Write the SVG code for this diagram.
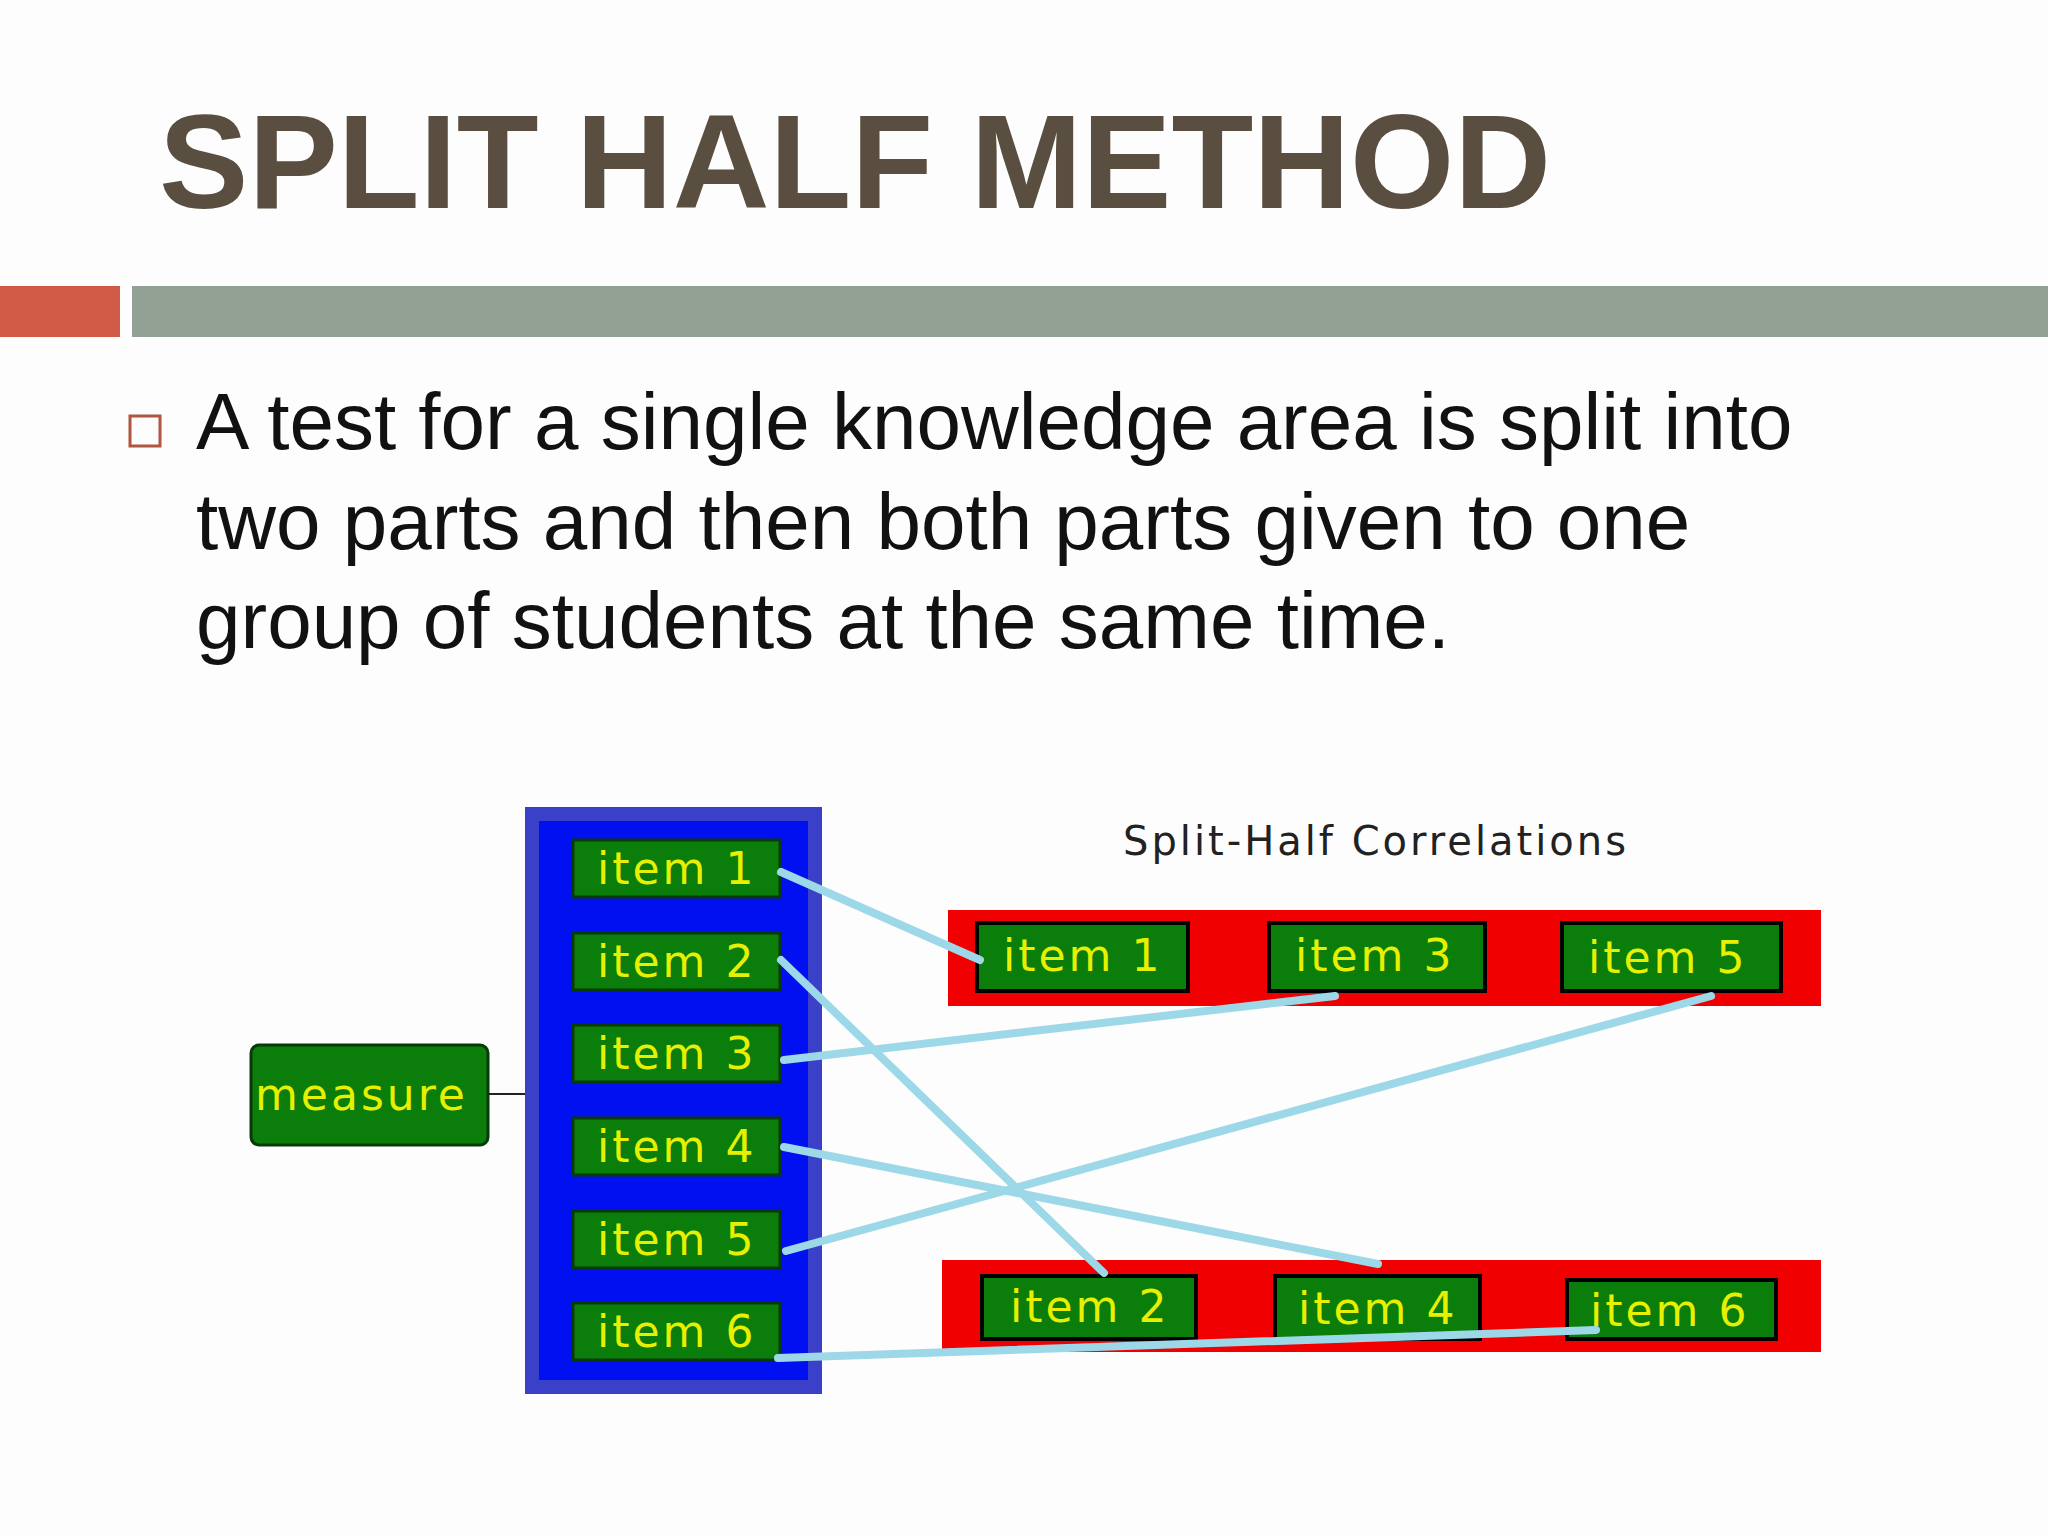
<svg xmlns="http://www.w3.org/2000/svg" width="2048" height="1536" viewBox="0 0 2048 1536">
<style>
.it{fill:#0a7d0a;stroke:#0a3a0a;stroke-width:3}
.it2{fill:#0a7d0a;stroke:#000;stroke-width:4}
.lt{font-family:"DejaVu Sans",sans-serif;font-size:44px;fill:#e6f000;letter-spacing:3px}
.cn{stroke:#9dd8e8;stroke-width:8;stroke-linecap:round;fill:none}
</style>
<rect width="2048" height="1536" fill="#fdfdfd"/>
<text x="159" y="208" font-family="Liberation Sans,Arial,sans-serif" font-weight="bold" font-size="134" fill="#5a4e40">SPLIT HALF METHOD</text>
<rect x="0" y="286" width="120" height="51" fill="#d05a45"/>
<rect x="132" y="286" width="1916" height="51" fill="#93a195"/>
<rect x="130" y="416" width="30" height="30" fill="none" stroke="#b0553f" stroke-width="3"/>
<g font-family="Liberation Sans,Arial,sans-serif" font-size="80" fill="#111">
<text x="196" y="449">A test for a single knowledge area is split into</text>
<text x="196" y="549">two parts and then both parts given to one</text>
<text x="196" y="648">group of students at the same time.</text>
</g>
<text x="1123" y="855" font-family="DejaVu Sans,sans-serif" font-size="40" fill="#222" letter-spacing="3">Split-Half Correlations</text>
<rect x="948" y="910" width="873" height="96" fill="#f00000"/>
<rect x="942" y="1260" width="879" height="92" fill="#f00000"/>
<g id="measure"><rect x="251" y="1045" width="237" height="100" rx="8" class="it" stroke="#4a1a4a"/><text x="255" y="1110" class="lt" letter-spacing="1">measure</text></g>
<line x1="488" y1="1094" x2="532" y2="1094" stroke="#222" stroke-width="2"/>
<g id="blockL"><rect x="532" y="814" width="283" height="573" fill="#0010f0" stroke="#3a40c8" stroke-width="14"/></g>
<g id="L1"><rect x="573" y="840" width="207" height="57" class="it"/><text x="597" y="884" class="lt">item 1</text></g>
<g id="L2"><rect x="573" y="933" width="207" height="57" class="it"/><text x="597" y="977" class="lt">item 2</text></g>
<g id="L3"><rect x="573" y="1025" width="207" height="57" class="it"/><text x="597" y="1069" class="lt">item 3</text></g>
<g id="L4"><rect x="573" y="1118" width="207" height="57" class="it"/><text x="597" y="1162" class="lt">item 4</text></g>
<g id="L5"><rect x="573" y="1211" width="207" height="57" class="it"/><text x="597" y="1255" class="lt">item 5</text></g>
<g id="L6"><rect x="573" y="1303" width="207" height="57" class="it"/><text x="597" y="1347" class="lt">item 6</text></g>
<g id="R1"><rect x="977" y="923" width="211" height="68" class="it2"/><text x="1003" y="971" class="lt">item 1</text></g>
<g id="R3"><rect x="1269" y="923" width="216" height="68" class="it2"/><text x="1295" y="971" class="lt">item 3</text></g>
<g id="R5"><rect x="1562" y="923" width="219" height="68" class="it2" stroke="#2020c0"/><text x="1588" y="973" class="lt">item 5</text></g>
<g id="R2"><rect x="982" y="1276" width="214" height="63" class="it2"/><text x="1010" y="1322" class="lt">item 2</text></g>
<g id="R4"><rect x="1275" y="1276" width="205" height="63" class="it2" stroke="#222"/><text x="1298" y="1324" class="lt">item 4</text></g>
<g id="R6"><rect x="1567" y="1280" width="209" height="59" class="it2" stroke="#2020c0"/><text x="1590" y="1326" class="lt">item 6</text></g>
<g id="connectors">
<line class="cn" x1="781" y1="872" x2="980" y2="960"/>
<line class="cn" x1="781" y1="960" x2="1104" y2="1273"/>
<line class="cn" x1="784" y1="1060" x2="1335" y2="996"/>
<line class="cn" x1="784" y1="1147" x2="1378" y2="1264"/>
<line class="cn" x1="786" y1="1251" x2="1711" y2="996"/>
<line class="cn" x1="778" y1="1358" x2="1596" y2="1330"/>
</g>
</svg>
